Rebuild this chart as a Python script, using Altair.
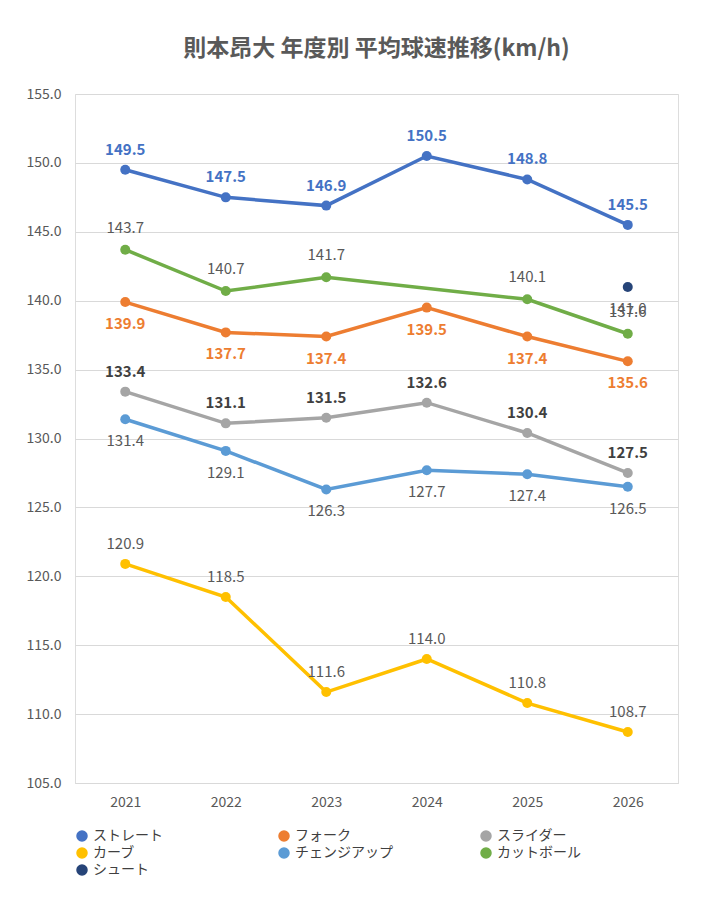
import altair as alt
import pandas as pd

years = ["2021", "2022", "2023", "2024", "2025", "2026"]
series = ["ストレート", "フォーク", "スライダー", "カーブ", "チェンジアップ", "カットボール", "シュート"]
colors = ["#4472C4", "#ED7D31", "#A5A5A5", "#FFC000", "#5B9BD5", "#70AD47", "#264478"]

straight = [149.5, 147.5, 146.9, 150.5, 148.8, 145.5]
fork = [139.9, 137.7, 137.4, 139.5, 137.4, 135.6]
slider = [133.4, 131.1, 131.5, 132.6, 130.4, 127.5]
curve = [120.9, 118.5, 111.6, 114.0, 110.8, 108.7]
changeup = [131.4, 129.1, 126.3, 127.7, 127.4, 126.5]
cutter = [143.7, 140.7, 141.7, None, 140.1, 137.6]
shoot = [None, None, None, None, None, 141.0]

values = [straight, fork, slider, curve, changeup, cutter, shoot]
# label style per series: (dy, colour, bold)
label_style = [(-20, "#4472C4", True), (22, "#ED7D31", True), (-20, "#404040", True),
               (-20, "#595959", False), (22, "#595959", False), (-22, "#595959", False),
               (22, "#595959", False)]

rows = []
for s, vals in zip(series, values):
    for y, v in zip(years, vals):
        if v is not None:
            rows.append({"年": y, "球種": s, "球速": v})
df = pd.DataFrame(rows)

x = alt.X("年:O", scale=alt.Scale(type="point", padding=0.5), title=None,
          axis=alt.Axis(labelAngle=0, labelFontSize=14, labelColor="#595959", grid=False,
                        domainColor="#D9D9D9", ticks=False, labelPadding=12))
y = alt.Y("球速:Q", scale=alt.Scale(domain=[105, 155], nice=False), title=None,
          axis=alt.Axis(values=list(range(105, 156, 5)), format=".1f", labelFontSize=14,
                        labelColor="#595959", gridColor="#D9D9D9", domain=False,
                        ticks=False, labelPadding=14))
color = alt.Color("球種:N", scale=alt.Scale(domain=series, range=colors),
                  legend=alt.Legend(title=None, orient="bottom", columns=3, symbolType="circle",
                                    symbolSize=100, labelFontSize=14, labelColor="#404040",
                                    columnPadding=85, rowPadding=1, gridAlign="all",
                                    offset=20))

lines = alt.Chart(df).mark_line(strokeWidth=3.5, point=alt.OverlayMarkDef(size=100, filled=True)).encode(
    x=x, y=y, color=color)

layers = [lines]
for s, (dy, c, bold) in zip(series, label_style):
    layers.append(alt.Chart(df).transform_filter(alt.datum["球種"] == s).mark_text(
        dy=dy, color=c, fontSize=15, fontWeight="bold" if bold else "normal").encode(
        x=x, y=y, text=alt.Text("球速:Q", format=".1f")))

chart = alt.layer(*layers).properties(
    width=603, height=689,
    padding={"left": 18, "top": 30, "right": 10, "bottom": 5},
    title=alt.Title("則本昂大 年度別 平均球速推移(km/h)", fontSize=23, color="#595959",
                    fontWeight="bold", offset=26),
).configure_view(stroke=None).configure(font="Noto Sans CJK JP")

chart.save("out.html", embed_options={"renderer": "svg", "actions": False})
